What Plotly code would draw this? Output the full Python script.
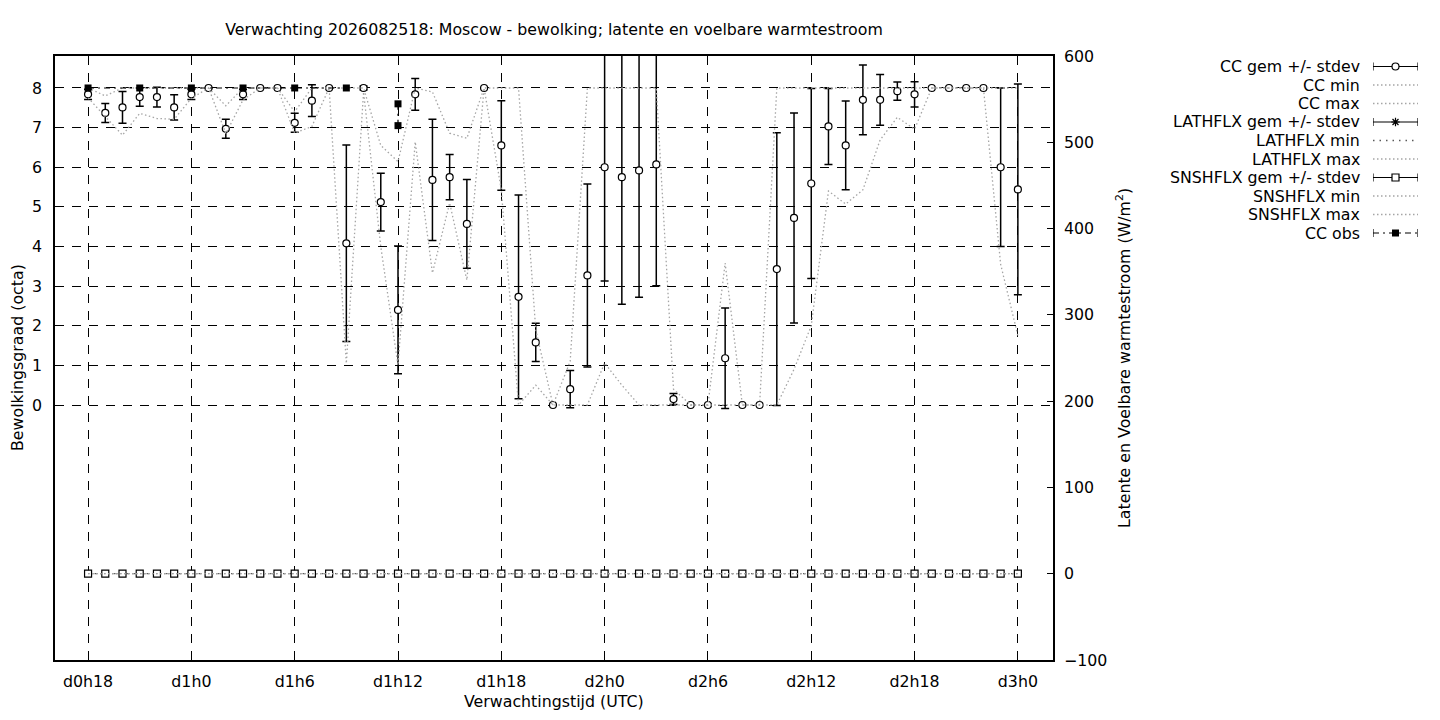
import plotly.graph_objects as go

# Verwachting 2026082518 Moscow: bewolking en warmtestroom, uurlijkse waarden
hours = list(range(18, 73))
tick_hours = [18, 24, 30, 36, 42, 48, 54, 60, 66, 72]
tick_labels = ['d0h18', 'd1h0', 'd1h6', 'd1h12', 'd1h18',
               'd2h0', 'd2h6', 'd2h12', 'd2h18', 'd3h0']

cc_gem = [7.84, 7.37, 7.51, 7.77, 7.77, 7.51, 7.84, 8.00, 6.97, 7.84,
          8.00, 8.00, 7.12, 7.68, 8.00, 4.08, 8.00, 5.12, 2.40, 7.84,
          5.68, 5.75, 4.57, 8.00, 6.55, 2.73, 1.58, 0.00, 0.40, 3.27,
          6.00, 5.75, 5.92, 6.07, 0.15, 0.00, 0.00, 1.18, 0.00, 0.00,
          3.43, 4.72, 5.59, 7.03, 6.55, 7.70, 7.70, 7.92, 7.84, 8.00,
          8.00, 8.00, 8.00, 6.00, 5.44]
cc_stdev = [0.13, 0.24, 0.40, 0.23, 0.25, 0.32, 0.13, 0.00, 0.24, 0.13,
            0.00, 0.00, 0.24, 0.40, 0.00, 2.48, 0.05, 0.73, 1.61, 0.40,
            1.53, 0.57, 1.12, 0.00, 1.13, 2.57, 0.48, 0.00, 0.47, 2.31,
            2.87, 3.21, 3.20, 3.06, 0.14, 0.00, 0.00, 1.27, 0.00, 0.00,
            3.44, 2.65, 2.40, 0.96, 1.12, 0.88, 0.64, 0.23, 0.32, 0.00,
            0.00, 0.00, 0.00, 2.00, 2.66]
cc_min = [7.75, 7.28, 6.81, 7.36, 7.23, 7.21, 7.74, 8.00, 6.85, 7.70,
          8.00, 8.00, 6.86, 7.03, 8.00, 1.05, 7.90, 4.00, 1.00, 6.64,
          3.33, 5.10, 3.15, 8.00, 5.43, 0.00, 0.50, 0.00, 0.00, 0.00,
          1.06, 0.50, 0.00, 0.00, 0.00, 0.00, 0.00, 0.00, 0.00, 0.00,
          0.00, 0.90, 2.00, 5.40, 5.07, 5.43, 6.69, 7.26, 6.96, 8.00,
          8.00, 8.00, 8.00, 3.55, 1.75]
cc_max = [8.00, 7.80, 8.00, 8.00, 8.00, 8.00, 8.00, 8.00, 7.55, 8.00,
          8.00, 8.00, 7.40, 8.00, 8.00, 8.00, 8.00, 6.55, 6.14, 8.00,
          7.90, 6.86, 6.73, 8.00, 8.00, 8.00, 1.90, 0.00, 1.10, 8.00,
          8.00, 8.00, 8.00, 8.00, 0.40, 0.00, 0.00, 3.58, 0.00, 0.00,
          8.00, 8.00, 8.00, 8.00, 8.00, 8.00, 8.00, 8.00, 8.00, 8.00,
          8.00, 8.00, 8.00, 8.00, 8.00]

# warmtestromen (W/m2), alle uren 0
lathflx_gem = [0, 0, 0, 0, 0, 0, 0, 0, 0, 0, 0, 0, 0, 0, 0, 0, 0, 0, 0, 0,
               0, 0, 0, 0, 0, 0, 0, 0, 0, 0, 0, 0, 0, 0, 0, 0, 0, 0, 0, 0,
               0, 0, 0, 0, 0, 0, 0, 0, 0, 0, 0, 0, 0, 0, 0]
lathflx_stdev = [0, 0, 0, 0, 0, 0, 0, 0, 0, 0, 0, 0, 0, 0, 0, 0, 0, 0, 0, 0,
                 0, 0, 0, 0, 0, 0, 0, 0, 0, 0, 0, 0, 0, 0, 0, 0, 0, 0, 0, 0,
                 0, 0, 0, 0, 0, 0, 0, 0, 0, 0, 0, 0, 0, 0, 0]
lathflx_min = [0, 0, 0, 0, 0, 0, 0, 0, 0, 0, 0, 0, 0, 0, 0, 0, 0, 0, 0, 0,
               0, 0, 0, 0, 0, 0, 0, 0, 0, 0, 0, 0, 0, 0, 0, 0, 0, 0, 0, 0,
               0, 0, 0, 0, 0, 0, 0, 0, 0, 0, 0, 0, 0, 0, 0]
lathflx_max = [0, 0, 0, 0, 0, 0, 0, 0, 0, 0, 0, 0, 0, 0, 0, 0, 0, 0, 0, 0,
               0, 0, 0, 0, 0, 0, 0, 0, 0, 0, 0, 0, 0, 0, 0, 0, 0, 0, 0, 0,
               0, 0, 0, 0, 0, 0, 0, 0, 0, 0, 0, 0, 0, 0, 0]
snshflx_gem = [0, 0, 0, 0, 0, 0, 0, 0, 0, 0, 0, 0, 0, 0, 0, 0, 0, 0, 0, 0,
               0, 0, 0, 0, 0, 0, 0, 0, 0, 0, 0, 0, 0, 0, 0, 0, 0, 0, 0, 0,
               0, 0, 0, 0, 0, 0, 0, 0, 0, 0, 0, 0, 0, 0, 0]
snshflx_stdev = [0, 0, 0, 0, 0, 0, 0, 0, 0, 0, 0, 0, 0, 0, 0, 0, 0, 0, 0, 0,
                 0, 0, 0, 0, 0, 0, 0, 0, 0, 0, 0, 0, 0, 0, 0, 0, 0, 0, 0, 0,
                 0, 0, 0, 0, 0, 0, 0, 0, 0, 0, 0, 0, 0, 0, 0]
snshflx_min = [0, 0, 0, 0, 0, 0, 0, 0, 0, 0, 0, 0, 0, 0, 0, 0, 0, 0, 0, 0,
               0, 0, 0, 0, 0, 0, 0, 0, 0, 0, 0, 0, 0, 0, 0, 0, 0, 0, 0, 0,
               0, 0, 0, 0, 0, 0, 0, 0, 0, 0, 0, 0, 0, 0, 0]
snshflx_max = [0, 0, 0, 0, 0, 0, 0, 0, 0, 0, 0, 0, 0, 0, 0, 0, 0, 0, 0, 0,
               0, 0, 0, 0, 0, 0, 0, 0, 0, 0, 0, 0, 0, 0, 0, 0, 0, 0, 0, 0,
               0, 0, 0, 0, 0, 0, 0, 0, 0, 0, 0, 0, 0, 0, 0]

# waarnemingen (gat tussen d1h9 en d1h12)
obs_hours = [18, 21, 24, 27, 30, 33, None, 36, 36]
obs_cc = [8, 8, 8, 8, 8, 8, None, 7.6, 7.05]

# pagina heeft 8px body-marge: figuur 1424x704, posities in paginapixels
OFF = 8
FW, FH = 1440 - 2 * OFF, 720 - 2 * OFF


def px(x):
    return (x - OFF) / FW


def py(y):
    return 1 - (y - OFF) / FH


FONT = 'DejaVu Sans'
FS = 15.8
GREY = 'rgb(165,165,165)'
DOT = '1.5px,2.5px'
COARSE = '1.5px,5px'
DASHDOT = '6px,4px,2px,4px'

fig = go.Figure()


def bars(arr, w=4):
    return dict(type='data', array=arr, color='black', thickness=1.5, width=w)


# CC gem +/- stdev
fig.add_trace(go.Scatter(
    x=hours, y=cc_gem, mode='markers',
    marker=dict(symbol='circle', size=7, color='white',
                line=dict(color='black', width=1.2)),
    error_y=bars(cc_stdev)))
fig.add_trace(go.Scatter(x=hours, y=cc_min, mode='lines',
                         line=dict(color=GREY, width=1.3, dash=DOT)))
fig.add_trace(go.Scatter(x=hours, y=cc_max, mode='lines',
                         line=dict(color=GREY, width=1.3, dash=DOT)))

# LATHFLX
fig.add_trace(go.Scatter(
    x=hours, y=lathflx_gem, mode='markers', yaxis='y2',
    marker=dict(symbol='asterisk-open', size=5, color='black',
                line=dict(color='black', width=1)),
    error_y=bars(lathflx_stdev, 3)))
fig.add_trace(go.Scatter(x=hours, y=lathflx_min, mode='lines', yaxis='y2',
                         line=dict(color='rgb(90,90,90)', width=1.3, dash=COARSE)))
fig.add_trace(go.Scatter(x=hours, y=lathflx_max, mode='lines', yaxis='y2',
                         line=dict(color=GREY, width=1.3, dash=DOT)))

# SNSHFLX
fig.add_trace(go.Scatter(
    x=hours, y=snshflx_gem, mode='markers', yaxis='y2',
    marker=dict(symbol='square', size=7, color='white',
                line=dict(color='black', width=1.2)),
    error_y=bars(snshflx_stdev, 3)))
fig.add_trace(go.Scatter(x=hours, y=snshflx_min, mode='lines', yaxis='y2',
                         line=dict(color=GREY, width=1.3, dash=DOT)))
fig.add_trace(go.Scatter(x=hours, y=snshflx_max, mode='lines', yaxis='y2',
                         line=dict(color=GREY, width=1.3, dash=DOT)))

# CC obs
fig.add_trace(go.Scatter(
    x=obs_hours, y=obs_cc, mode='lines+markers', connectgaps=False,
    line=dict(color='black', width=1.2, dash=DASHDOT),
    marker=dict(symbol='square', size=7, color='black')))

# eigen legenda (tekst rechts uitgelijnd, voorbeeld rechts ervan)
legend_items = [
    ('CC gem +/- stdev', 'bar', 'circle'),
    ('CC min', 'grey', None),
    ('CC max', 'grey', None),
    ('LATHFLX gem +/- stdev', 'bar', 'asterisk'),
    ('LATHFLX min', 'coarse', None),
    ('LATHFLX max', 'grey', None),
    ('SNSHFLX gem +/- stdev', 'bar', 'square'),
    ('SNSHFLX min', 'grey', None),
    ('SNSHFLX max', 'grey', None),
    ('CC obs', 'obs', 'filled'),
]
row0, row_step = 66.5, 18.5
for i, (label, kind, sym) in enumerate(legend_items):
    row = row0 + i * row_step
    if kind in ('bar', 'obs'):
        dash = 'solid' if kind == 'bar' else DASHDOT
        fig.add_trace(go.Scatter(
            x=[0, 1], y=[row, row], mode='lines', xaxis='x3', yaxis='y3',
            line=dict(color='black', width=1.2, dash=dash),
            error_y=dict(type='data', array=[4, 4], color='black',
                         thickness=1.2, width=0)))
        if sym == 'circle':
            mk = dict(symbol='circle', size=7, color='white',
                      line=dict(color='black', width=1.2))
        elif sym == 'asterisk':
            mk = dict(symbol='asterisk-open', size=7, color='black',
                      line=dict(color='black', width=1.2))
        elif sym == 'square':
            mk = dict(symbol='square', size=7, color='white',
                      line=dict(color='black', width=1.2))
        else:
            mk = dict(symbol='square', size=7, color='black')
        fig.add_trace(go.Scatter(x=[0.5], y=[row], mode='markers',
                                 xaxis='x3', yaxis='y3', marker=mk))
    else:
        color = GREY if kind == 'grey' else 'rgb(90,90,90)'
        dash = DOT if kind == 'grey' else COARSE
        fig.add_trace(go.Scatter(
            x=[0, 1], y=[row, row], mode='lines', xaxis='x3', yaxis='y3',
            line=dict(color=color, width=1.3, dash=dash)))
    fig.add_annotation(text=label, xref='paper', yref='paper',
                       x=px(1362), y=py(row), xanchor='right',
                       yanchor='middle', showarrow=False,
                       font=dict(family=FONT, size=FS, color='black'))

# astitels
fig.add_annotation(text='Bewolkingsgraad (octa)', xref='paper', yref='paper',
                   x=px(18), y=py(358), xanchor='center', yanchor='middle',
                   textangle=-90, showarrow=False,
                   font=dict(family=FONT, size=FS, color='black'))
fig.add_annotation(text='Latente en Voelbare warmtestroom (W/m<sup>2</sup>)',
                   xref='paper', yref='paper', x=px(1124), y=py(358),
                   xanchor='center', yanchor='middle',
                   textangle=-90, showarrow=False,
                   font=dict(family=FONT, size=FS, color='black'))
fig.add_annotation(text='Verwachtingstijd (UTC)', xref='paper', yref='paper',
                   x=px(554), y=py(701), xanchor='center', yanchor='middle',
                   showarrow=False,
                   font=dict(family=FONT, size=FS, color='black'))

GRID = dict(showgrid=True, gridcolor='black', gridwidth=1, griddash='9px,8px')

fig.update_layout(
    width=FW, height=FH,
    margin=dict(l=0, r=0, t=0, b=0, autoexpand=False),
    paper_bgcolor='white', plot_bgcolor='white',
    showlegend=False,
    font=dict(family=FONT, size=FS, color='black'),
    title=dict(text='Verwachting 2026082518: Moscow - bewolking; latente en voelbare warmtestroom',
               xref='paper', x=px(554), xanchor='center',
               yref='paper', y=py(29), yanchor='middle', automargin=False,
               font=dict(family=FONT, size=FS, color='black')),
    xaxis=dict(domain=[px(55), px(1053)], range=[16.08, 74.04],
               tickvals=tick_hours, ticktext=tick_labels,
               ticks='inside', ticklen=6, tickcolor='black',
               showline=True, linecolor='black', linewidth=1.5, mirror=True,
               zeroline=False, ticklabelstandoff=6, anchor='y',
               automargin=False, **GRID),
    yaxis=dict(domain=[py(660), py(56)], range=[-6.435, 8.807],
               tickvals=[0, 1, 2, 3, 4, 5, 6, 7, 8],
               ticks='inside', ticklen=6, tickcolor='black',
               showline=True, linecolor='black', linewidth=1.5, mirror=True,
               zeroline=False, ticklabelstandoff=8, anchor='x',
               automargin=False, **GRID),
    yaxis2=dict(overlaying='y', side='right', anchor='x', range=[-100, 600],
                tickvals=[-100, 0, 100, 200, 300, 400, 500, 600],
                ticks='inside', ticklen=6, tickcolor='black',
                showgrid=False, zeroline=False, showline=False,
                ticklabelstandoff=10, automargin=False),
    xaxis3=dict(domain=[px(1373), px(1418)], range=[0, 1], visible=False,
                anchor='y3', automargin=False),
    yaxis3=dict(domain=[0, 1], range=[FH + OFF, OFF], visible=False,
                anchor='x3', automargin=False),
)

fig.write_html("out.html")
